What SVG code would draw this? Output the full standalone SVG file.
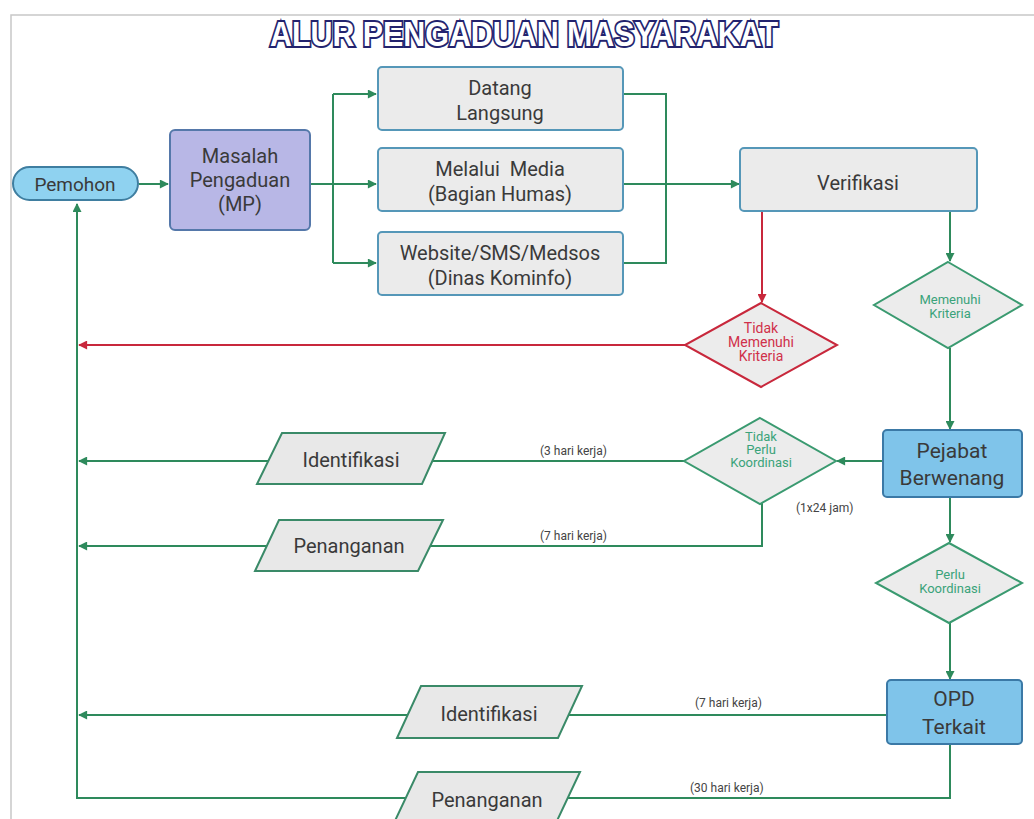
<svg xmlns="http://www.w3.org/2000/svg" width="1034" height="819" viewBox="0 0 1034 819">
<defs>
<marker id="ag" viewBox="0 0 10 10" refX="9" refY="5" markerWidth="10" markerHeight="9" markerUnits="userSpaceOnUse" orient="auto"><path d="M0,0 L10,5 L0,10 z" fill="#2e8a5c"/></marker>
<marker id="ar" viewBox="0 0 10 10" refX="9" refY="5" markerWidth="10" markerHeight="9" markerUnits="userSpaceOnUse" orient="auto"><path d="M0,0 L10,5 L0,10 z" fill="#c8283c"/></marker>
<style>
.t{font-family:Roboto,"Liberation Sans",sans-serif;fill:#3a3a3a;text-anchor:middle}
.m{font-size:20px}
.d{font-size:13px;fill:#3aa37a}
.dr{font-size:14px;fill:#d0304a}
.l{font-family:Roboto,"Liberation Sans",sans-serif;font-size:12px;fill:#444}
.box{fill:#ebebeb;stroke:#5597b8;stroke-width:2}
.blue{fill:#7fc4ea;stroke:#3b79a6;stroke-width:2}
.para{fill:#e8e8e8;stroke:#3a8a68;stroke-width:2}
.dia{fill:#ececec;stroke:#3a9a70;stroke-width:2}
.g{fill:none;stroke:#2e8a5c;stroke-width:2}
.r{fill:none;stroke:#c8283c;stroke-width:2}
</style>
</defs>
<rect width="1034" height="819" fill="#ffffff"/>
<path d="M11,819 L11,15 L1034,15" fill="none" stroke="#c8c8c8" stroke-width="1.5"/>
<text x="524" y="46" text-anchor="middle" textLength="508" lengthAdjust="spacingAndGlyphs" font-family="'Liberation Sans',Arial,sans-serif" font-weight="bold" font-size="35" fill="#ffffff" stroke="#23236e" stroke-width="4" paint-order="stroke">ALUR PENGADUAN MASYARAKAT</text>

<g id="connectors">
<line class="g" x1="139" y1="184" x2="168" y2="184" marker-end="url(#ag)"/>
<line class="g" x1="310" y1="184" x2="376" y2="184" marker-end="url(#ag)"/>
<line class="g" x1="333" y1="94" x2="333" y2="263"/>
<line class="g" x1="333" y1="94" x2="376" y2="94" marker-end="url(#ag)"/>
<line class="g" x1="333" y1="263" x2="376" y2="263" marker-end="url(#ag)"/>
<polyline class="g" points="623,94 666,94 666,263 623,263"/>
<line class="g" x1="623" y1="184" x2="739" y2="184" marker-end="url(#ag)"/>
<line class="g" x1="950" y1="211" x2="950" y2="261" marker-end="url(#ag)"/>
<line class="g" x1="950" y1="348" x2="950" y2="429" marker-end="url(#ag)"/>
<line class="g" x1="883" y1="461" x2="837" y2="461" marker-end="url(#ag)"/>
<line class="g" x1="684" y1="461" x2="79" y2="461" marker-end="url(#ag)"/>
<polyline class="g" points="762,503 762,546 79,546" marker-end="url(#ag)"/>
<line class="g" x1="950" y1="497" x2="950" y2="542" marker-end="url(#ag)"/>
<line class="g" x1="950" y1="623" x2="950" y2="679" marker-end="url(#ag)"/>
<line class="g" x1="887" y1="715" x2="79" y2="715" marker-end="url(#ag)"/>
<polyline class="g" points="950,744 950,798 77,798 77,204" marker-end="url(#ag)"/>
<line class="r" x1="762" y1="211" x2="762" y2="302" marker-end="url(#ar)"/>
<line class="r" x1="685" y1="345" x2="79" y2="345" marker-end="url(#ar)"/>
<text class="l" x="540" y="455">(3 hari kerja)</text>
<text class="l" x="540" y="540">(7 hari kerja)</text>
<text class="l" x="796" y="512">(1x24 jam)</text>
<text class="l" x="695" y="707">(7 hari kerja)</text>
<text class="l" x="690" y="792">(30 hari kerja)</text>
</g>

<g id="pemohon">
<rect x="13" y="167" width="125" height="33" rx="16.5" fill="#8fd2f0" stroke="#3f7ea0" stroke-width="2"/>
<text class="t" x="75" y="191" font-size="19">Pemohon</text>
</g>
<g id="mp">
<rect x="170" y="130" width="140" height="100" rx="5" fill="#b8b7e6" stroke="#5578aa" stroke-width="2"/>
<text class="t m" x="240" y="163">Masalah</text>
<text class="t m" x="240" y="187">Pengaduan</text>
<text class="t m" x="240" y="211">(MP)</text>
</g>
<g id="datang">
<rect class="box" x="378" y="67" width="245" height="63" rx="4"/>
<text class="t m" x="500" y="95">Datang</text>
<text class="t m" x="500" y="120">Langsung</text>
</g>
<g id="media">
<rect class="box" x="378" y="148" width="245" height="63" rx="4"/>
<text class="t m" x="500" y="176" xml:space="preserve">Melalui  Media</text>
<text class="t m" x="500" y="201">(Bagian Humas)</text>
</g>
<g id="website">
<rect class="box" x="378" y="232" width="245" height="63" rx="4"/>
<text class="t m" x="500" y="260">Website/SMS/Medsos</text>
<text class="t m" x="500" y="285">(Dinas Kominfo)</text>
</g>
<g id="verifikasi">
<rect class="box" x="740" y="148" width="237" height="63" rx="4"/>
<text class="t m" x="858" y="190">Verifikasi</text>
</g>
<g id="tidak-memenuhi">
<polygon points="761,303 837,345 761,387 685,345" fill="#ececec" stroke="#c8283c" stroke-width="2"/>
<text class="t dr" x="761" y="333">Tidak</text>
<text class="t dr" x="761" y="347">Memenuhi</text>
<text class="t dr" x="761" y="361">Kriteria</text>
</g>
<g id="memenuhi">
<polygon class="dia" points="948,262 1022,305 948,348 874,305"/>
<text class="t d" x="950" y="304">Memenuhi</text>
<text class="t d" x="950" y="318">Kriteria</text>
</g>
<g id="pejabat">
<rect class="blue" x="883" y="430" width="139" height="67" rx="4"/>
<text class="t" x="952" y="458" font-size="21">Pejabat</text>
<text class="t" x="952" y="485" font-size="21">Berwenang</text>
</g>
<g id="tidak-perlu">
<polygon class="dia" points="760,418 836,461 760,504 684,461"/>
<text class="t d" x="761" y="441">Tidak</text>
<text class="t d" x="761" y="454">Perlu</text>
<text class="t d" x="761" y="467">Koordinasi</text>
</g>
<g id="identifikasi-1">
<polygon class="para" points="282,433 445,433 422,484 257,484"/>
<text class="t m" x="351" y="467">Identifikasi</text>
</g>
<g id="penanganan-1">
<polygon class="para" points="279,520 443,520 418,571 255,571"/>
<text class="t m" x="349" y="553">Penanganan</text>
</g>
<g id="perlu">
<polygon class="dia" points="949,543 1022,583 949,623 876,583"/>
<text class="t d" x="950" y="579">Perlu</text>
<text class="t d" x="950" y="593">Koordinasi</text>
</g>
<g id="opd">
<rect class="blue" x="887" y="680" width="135" height="64" rx="4"/>
<text class="t" x="954" y="706" font-size="21">OPD</text>
<text class="t" x="954" y="734" font-size="21">Terkait</text>
</g>
<g id="identifikasi-2">
<polygon class="para" points="421,686 582,686 558,738 397,738"/>
<text class="t m" x="489" y="721">Identifikasi</text>
</g>
<g id="penanganan-2">
<polygon class="para" points="418,772 580,772 555,825 393,825"/>
<text class="t m" x="487" y="807">Penanganan</text>
</g>
</svg>
